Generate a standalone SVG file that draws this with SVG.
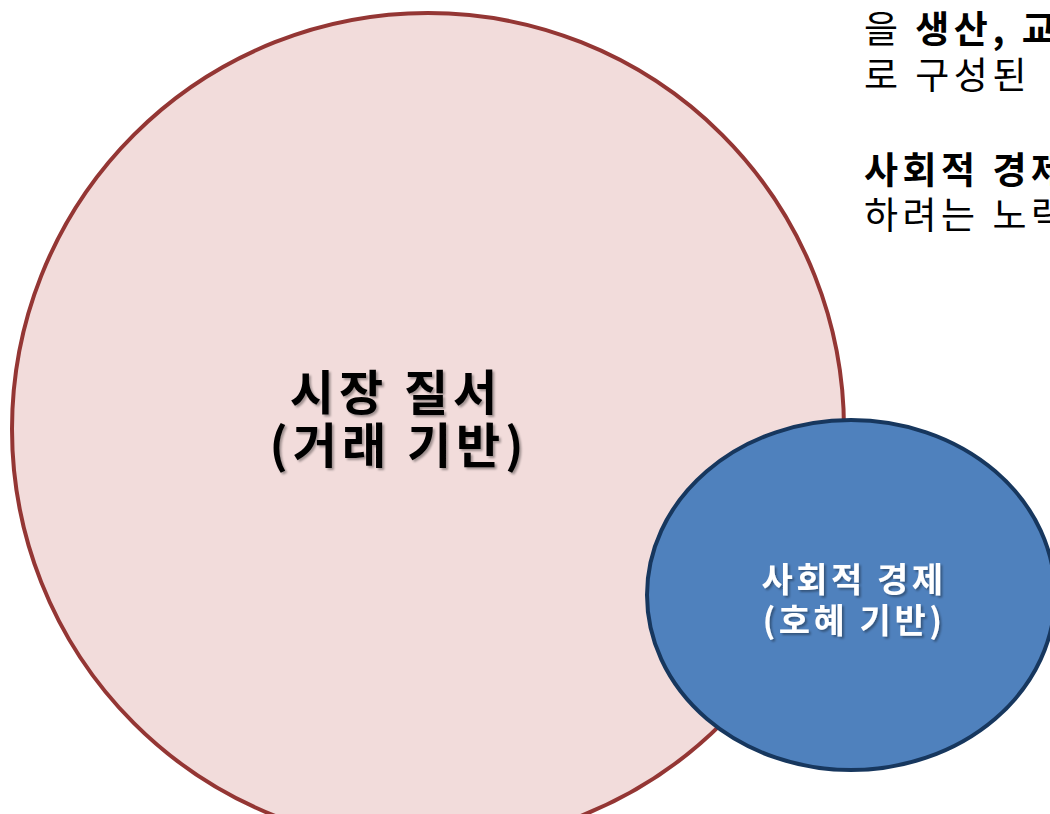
<svg xmlns="http://www.w3.org/2000/svg" width="1050" height="814" viewBox="0 0 1050 814">
  <defs>
    <filter id="shadow" x="-10%" y="-10%" width="120%" height="130%">
      <feDropShadow dx="2" dy="2" stdDeviation="1.2" flood-color="#000" flood-opacity="0.35"/>
    </filter>
  </defs>
  <style>
    .kr { font-family: "Malgun Gothic", "Noto Sans CJK KR", sans-serif; }
    .main { font-size: 48px; font-weight: bold; fill: #000; text-anchor: middle; letter-spacing: 5px; }
    .sub { font-size: 34px; font-weight: bold; fill: #fff; text-anchor: middle; letter-spacing: 3.5px; }
    .desc { font-size: 37px; fill: #000; letter-spacing: 4.5px; }
  </style>
  <rect width="1050" height="814" fill="#fff"/>
  <g id="desc-text" class="kr">
    <text class="desc" x="864" y="43">을 <tspan font-weight="bold">생산, 교환</tspan></text>
    <text class="desc" x="864" y="89">로 구성된</text>
    <text class="desc" x="864" y="184" font-weight="bold">사회적 경제</text>
    <text class="desc" x="864" y="229">하려는 노력</text>
  </g>
  <g id="market">
    <circle cx="428" cy="429" r="416" fill="#F2DCDB" stroke="#943634" stroke-width="4"/>
    <g filter="url(#shadow)">
      <text class="kr main" x="396" y="410">시장 질서</text>
      <text class="kr main" x="399" y="463">(거래 기반)</text>
    </g>
  </g>
  <g id="social">
    <ellipse cx="851" cy="595" rx="204" ry="175" fill="#4F81BD" stroke="#17375E" stroke-width="4"/>
    <g filter="url(#shadow)">
      <text class="kr sub" x="854" y="592">사회적 경제</text>
      <text class="kr sub" x="854" y="633">(호혜 기반)</text>
    </g>
  </g>
  <g id="connectors"/>
</svg>
